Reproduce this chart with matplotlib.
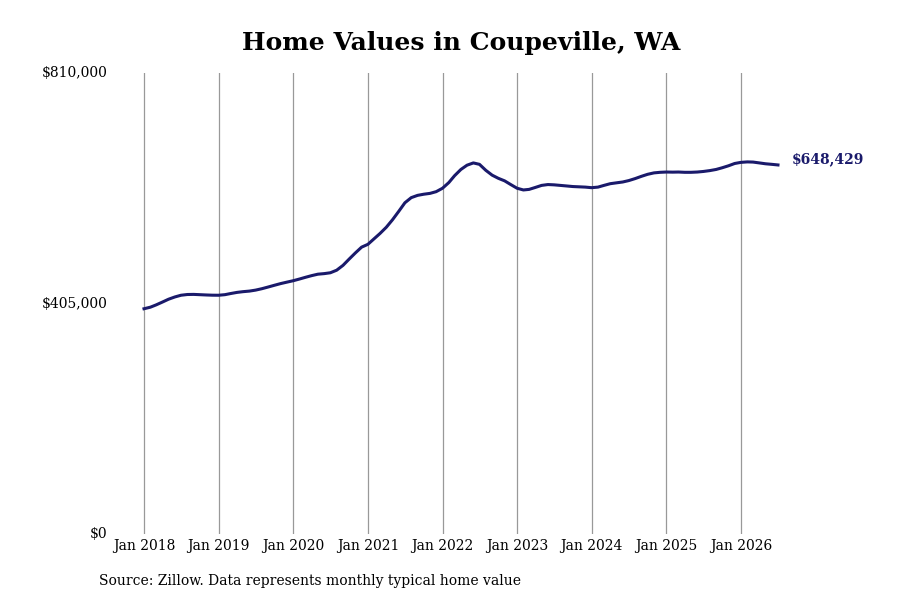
import pandas as pd
import matplotlib.pyplot as plt
import matplotlib.dates as mdates
from matplotlib.ticker import FixedLocator, FuncFormatter

# Monthly typical home value, Jan 2018 - Jul 2026
values_2018 = [395800, 398500, 402500, 407500, 412500, 416500, 419500, 420800, 421000, 420500, 420000, 419600]
values_2019 = [419500, 420500, 422500, 424500, 425800, 426800, 428500, 431000, 434000, 437000, 440000, 442500]
values_2020 = [445000, 448000, 451000, 454000, 456500, 457500, 459000, 463500, 472000, 483000, 494000, 504000]
values_2021 = [509000, 519000, 528000, 539000, 552000, 567000, 582000, 591000, 595000, 597000, 598500, 601500]
values_2022 = [607500, 617500, 629500, 640500, 648000, 652000, 649500, 639000, 630500, 625000, 620500, 614000]
values_2023 = [607500, 604500, 605500, 609000, 612500, 614000, 613500, 612500, 611500, 610500, 610000, 609500]
values_2024 = [608500, 609500, 612500, 615500, 617000, 618500, 621000, 624500, 628500, 632000, 634500, 635500]
values_2025 = [636000, 635800, 636000, 635500, 635500, 636000, 637000, 638500, 640500, 643500, 647000, 651000]
values_2026 = [653000, 653800, 653500, 652000, 650500, 649500, 648429]

values = (values_2018 + values_2019 + values_2020 + values_2021 + values_2022
          + values_2023 + values_2024 + values_2025 + values_2026)
dates = pd.date_range('2018-01-01', periods=len(values), freq='MS')

tick_years = list(range(2018, 2027))
y_ticks = [0, 405000, 810000]

title = 'Home Values in Coupeville, WA'
source = 'Source: Zillow. Data represents monthly typical home value'
line_color = '#1a1a6b'

plt.rcParams['font.family'] = 'DejaVu Serif'

fig = plt.figure(figsize=(9, 6), dpi=100)
ax = fig.add_axes([115 / 900, 1 - 534 / 600, (790 - 115) / 900, (534 - 73) / 600])

ax.plot(dates, values, color=line_color, linewidth=2.2)

# x range: Jan 2018 at 144px, Jan 2026 at 741px
jan18 = mdates.date2num(pd.Timestamp('2018-01-01'))
jan26 = mdates.date2num(pd.Timestamp('2026-01-01'))
px_per_day = (741 - 144) / (jan26 - jan18)
ax.set_xlim(jan18 - (144 - 115) / px_per_day, jan26 + (790 - 741) / px_per_day)
ax.set_ylim(0, 810000)

tick_dates = [mdates.date2num(pd.Timestamp(f'{y}-01-01')) for y in tick_years]
ax.xaxis.set_major_locator(FixedLocator(tick_dates))
ax.set_xticklabels([f'Jan {y}' for y in tick_years])
ax.set_yticks(y_ticks)
ax.yaxis.set_major_formatter(FuncFormatter(lambda v, p: f'${v:,.0f}'))

ax.grid(axis='x', color='#999999', linewidth=0.9)
ax.grid(axis='y', visible=False)
for s in ax.spines.values():
    s.set_visible(False)
ax.tick_params(axis='x', length=0, pad=3.5, labelsize=10)
ax.tick_params(axis='y', length=0, pad=5.5, labelsize=10)
for lbl in ax.get_yticklabels():
    lbl.set_verticalalignment('center')

ax.annotate(f'${values[-1]:,.0f}', xy=(dates[-1], values[-1]), xytext=(10, 4.5),
            textcoords='offset points', ha='left', va='center',
            fontsize=10, fontweight='bold', color=line_color)

fig.text(461 / 900, 1 - 43 / 600, title, ha='center', va='center', fontsize=18, fontweight='bold')
fig.text(99 / 900, 1 - 581 / 600, source, ha='left', va='center', fontsize=10)

fig.savefig('out.png', dpi=100)
